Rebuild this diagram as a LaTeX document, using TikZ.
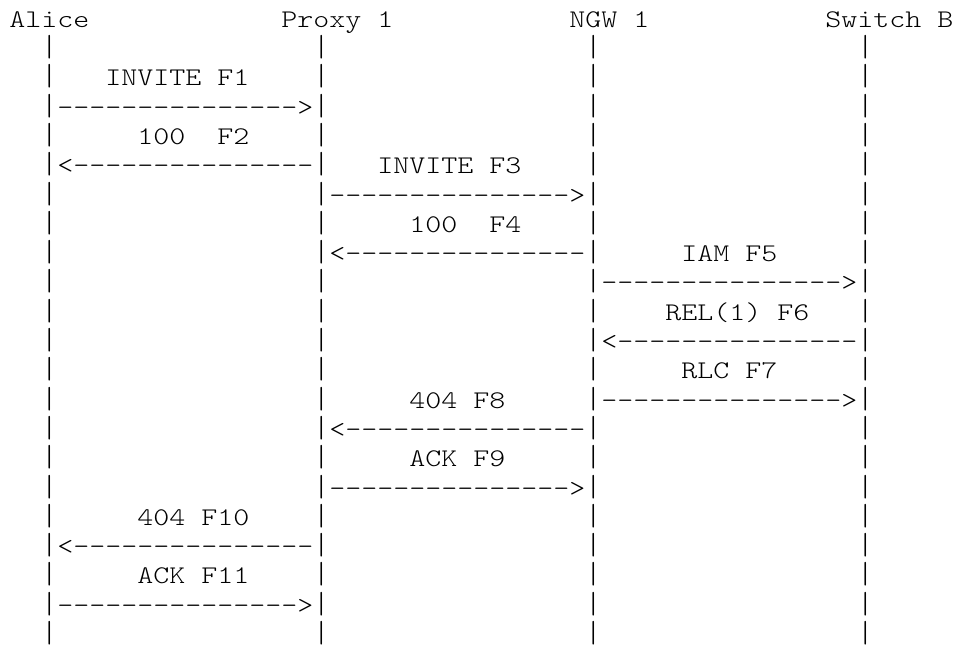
\documentclass[tikz,border=0pt]{standalone}
\usepackage{graphicx}
\usepackage{fontspec}
\setmonofont{lmmonolt10-regular.otf}[FakeStretch=1.2]
\newcommand\dashrun{---------------}
\newcommand\lifebar{\scalebox{1}[1.2]{|}}
\begin{document}
\begin{tikzpicture}[x=8pt,y=-14.65pt,
		ascii/.style={inner sep=0pt,anchor=base west,font=\ttfamily\fontsize{12.7pt}{14.65pt}\selectfont}]
		\useasboundingbox (-.5625,-.9317) rectangle (59.0625,21.184);
		% header
			\node[ascii] (alice)   at (0,0)  {Alice};
			\node[ascii] (proxy)   at (17,0) {Proxy 1};
			\node[ascii] (ngw)     at (35,0) {NGW 1};
			\node[ascii] (switchb) at (51,0) {Switch B};
		% life lines
			\foreach \c/\n in {2/a,19/p,36/n,53/s}{
				\foreach \r in {1,...,21}{
					\node[ascii] (bar-\n-\r) at (\c,\r) {\lifebar};
					}
				}
		% labels
			\foreach \c/\r/\t in {6/2/INVITE F1, 8/4/100\ \ F2, 23/5/INVITE F3,
					25/7/100\ \ F4, 42/8/IAM F5, 41/10/REL(1) F6, 42/12/RLC F7,
					25/13/404 F8, 25/15/ACK F9, 8/17/404 F10, 8/19/ACK F11}{
				\node[ascii] (msg-\r-\c) at (\c,\r) {\t};
				}
		% arrows
			\foreach \c/\r in {3/3,20/6,37/9,37/13,20/16,3/20}{
				\node[ascii] (right-\r-\c) at (\c,\r) {\dashrun>};
				}
			\foreach \c/\r in {3/5,20/8,37/11,20/14,3/18}{
				\node[ascii] (left-\r-\c) at (\c,\r) {<\dashrun};
				}
	\end{tikzpicture}
\end{document}
